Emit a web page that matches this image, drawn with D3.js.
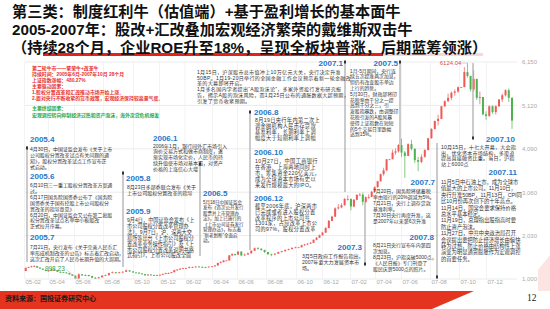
<!DOCTYPE html>
<html>
<head>
<meta charset="utf-8">
<script src="https://cdn.jsdelivr.net/npm/d3@7"></script>
<style>
body { margin: 0; background: #fff; }
svg { display: block; }
</style>
</head>
<body>
<svg id="canvas"></svg>
<script>
var w = 550
var h = 309

// ########## Data: weekly Shanghai Composite (open = previous close) ##########
var startWeek = new Date(2005, 1, 4);
var endWeek = new Date(2008, 0, 25);
var firstOpen = 1190;
var closes = [1265,1280,1300,1305,1270,1245,1220,1195,1200,1225,1205,1170,1160,1155,1140,1110,1080,1015,1110,1085,1095,1070,1030,1020,1040,1080,1090,1140,1160,1140,1160,1170,1205,1180,1155,1150,1130,1115,1090,1105,1095,1090,1095,1100,1120,1140,1140,1161,
    1210,1225,1245,1258,1260,1280,1280,1295,1290,1270,1280,1295,1300,1320,1380,1400,1440,1440,1560,1590,1580,1650,1560,1580,1610,1672,1730,1720,1690,1640,1590,1580,1600,1640,1660,1690,1710,1740,1752,1752,1800,1820,1840,1860,1930,1980,2040,2100,2210,2380,2480,2675,
    2700,2750,2900,2900,2720,2880,2998,3000,2830,2940,2950,3070,3180,3320,3490,3580,3840,3840,4000,4030,4180,4000,3920,4200,4090,3820,3780,3900,4060,4340,4560,4750,4800,5100,5220,5300,5420,5450,5552,5552,5910,5820,5500,5750,5300,5320,4910,4870,5100,4960,5100,5261,
    5360,5480,5300,4760];
var highs = [1270,1290,1315,1328,1310,1280,1250,1225,1210,1240,1235,1210,1180,1165,1160,1145,1115,1085,1135,1120,1110,1100,1075,1045,1050,1090,1105,1150,1180,1165,1170,1185,1225,1210,1185,1160,1160,1140,1120,1115,1115,1105,1105,1110,1130,1150,1155,1170,
    1215,1235,1255,1265,1270,1300,1295,1305,1305,1295,1290,1300,1310,1330,1390,1420,1445,1450,1575,1610,1600,1660,1655,1600,1625,1680,1745,1757,1725,1695,1645,1600,1615,1650,1670,1700,1720,1750,1765,1760,1815,1835,1850,1875,1940,1995,2055,2120,2230,2400,2500,2700,
    2780,2800,2920,2990,2910,2900,3010,3040,3050,2960,3010,3090,3200,3330,3500,3640,3850,3850,4070,4100,4200,4330,4040,4220,4300,4100,3900,3960,4080,4350,4580,4760,4900,5110,5240,5400,5450,5500,5570,5560,6030,6124,5820,5950,5750,5450,5300,4980,5120,5120,5120,5270,
    5400,5500,5522,5310];
var lows = [1185,1260,1275,1290,1265,1240,1210,1185,1180,1195,1200,1165,1140,1145,1130,1100,1070,1005,998,1075,1070,1060,1025,1005,1010,1035,1070,1085,1135,1130,1135,1150,1165,1170,1150,1140,1120,1105,1075,1080,1085,1075,1080,1085,1095,1115,1130,1135,
    1160,1200,1215,1240,1250,1255,1260,1275,1280,1260,1265,1275,1285,1295,1320,1370,1395,1435,1440,1540,1550,1575,1540,1550,1575,1605,1665,1700,1670,1620,1570,1541,1565,1595,1630,1650,1680,1700,1730,1745,1750,1790,1805,1830,1855,1920,1975,2030,2095,2200,2370,2470,
    2650,2680,2740,2860,2630,2700,2870,2980,2750,2800,2900,2940,3060,3170,3310,3450,3560,3830,3850,3950,4000,3900,3400,3950,4050,3750,3560,3750,3880,4050,4330,4550,4650,4800,5080,5200,5250,5350,5420,5545,5560,5780,5450,5450,5250,5150,4880,4780,4850,4920,4900,5080,
    5200,5330,5200,4560];
var yTicks = [1000, 2030, 3060, 4090, 5120, 6150];
var xTickLabels = ["05-02","05-04","05-06","05-08","05-10","05-12","06-02","06-04","06-06","06-08","06-10","06-12","07-02","07-04","07-06","07-08","07-10","07-12"];
// trading-day axis: where each month label sits on the picture
var xTickPos = [24.5,48.5,74.5,103.5,133.5,159.5,185,212.5,237.5,266.5,296.5,322.5,350.5,375.5,401.5,430.5,459.5,486.5];
var peakLabel = "6124.04";
var lowLabel = "998.23";

var parseTick = d3.timeParse("%y-%m");
var xTicks = xTickLabels.map(parseTick);
var weeks = d3.timeFriday.range(startWeek, d3.timeDay.offset(endWeek, 1));
var candles = weeks.map(function (d, i) {
    return { date: d, open: i ? closes[i - 1] : firstOpen, close: closes[i], high: highs[i], low: lows[i] };
});

var latin = "'Liberation Sans', Arial, sans-serif";
var mixed = "'Liberation Sans', 'Noto Sans CJK SC', sans-serif";
var blue = "#1f78c8";

// ########## SVG ##########
var svg = d3.select("#canvas")
    .attr("width", w)
    .attr("height", h)
    .style("font-family", mixed);

svg.append("rect").attr("width", w).attr("height", h).attr("fill", "#fff");

// ########## Title ##########
var titles = ["第三类：制度红利牛（估值端）+基于盈利增长的基本面牛",
    "2005-2007年：股改+汇改叠加宏观经济繁荣的戴维斯双击牛",
    "（持续28个月，企业ROE升至18%，呈现全板块普涨，后期蓝筹领涨）"];

svg.append("rect").attr("x", 383).attr("y", 53).attr("width", 100).attr("height", 3).attr("fill", "#f8d8d5");
svg.append("rect").attr("x", 43).attr("y", 53).attr("width", 340).attr("height", 3).attr("fill", "#e2231a");

svg.selectAll(".title")
    .data(titles).enter()
    .append("text")
    .attr("class", "title")
    .attr("x", 12)
    .attr("y", function (d, i) { return 17 + i * 18; })
    .attr("font-size", 15.2)
    .attr("font-weight", 700)
    .attr("fill", "#111")
    .text(function (d) { return d; });

// ########## Scales ##########
var x = d3.scaleTime()
    .domain(xTicks.concat([endWeek]))
    .range(xTickPos.concat([512]));
var y = d3.scaleLinear().domain([1000, 6150]).range([279, 62]);

// ########## Grid ##########
svg.append("g").selectAll("line")
    .data(yTicks).enter()
    .append("line")
    .attr("x1", 25).attr("x2", 517)
    .attr("y1", function (d) { return y(d); })
    .attr("y2", function (d) { return y(d); })
    .attr("stroke", "#e6e6e6")
    .attr("stroke-width", 0.8);

svg.append("g").selectAll("line")
    .data(xTicks).enter()
    .append("line")
    .attr("x1", function (d) { return x(d); })
    .attr("x2", function (d) { return x(d); })
    .attr("y1", 62).attr("y2", 279)
    .attr("stroke", "#f0f0f0")
    .attr("stroke-width", 0.8);

// ########## Axes ##########
var yAxis = svg.append("g")
    .attr("transform", "translate(520,0)")
    .call(d3.axisRight(y).tickValues(yTicks).tickSize(0).tickPadding(2));
var xAxis = svg.append("g")
    .attr("transform", "translate(0,279)")
    .call(d3.axisBottom(x).tickValues(xTicks).tickFormat(d3.timeFormat("%y-%m")).tickSize(0).tickPadding(0.5));

[yAxis, xAxis].forEach(function (a) {
    a.select(".domain").remove();
    a.selectAll("text")
        .attr("fill", "#aaa")
        .attr("font-size", 6)
        .attr("font-family", latin);
});
xAxis.selectAll("text").attr("text-anchor", "start").attr("x", 0.5);

// ########## Candles ##########
var upColor = "#ef5a57";
var downColor = "#4db34f";

var candle = svg.append("g").selectAll("g")
    .data(candles).enter()
    .append("g")
    .attr("fill", function (d) { return d.close >= d.open ? upColor : downColor; })
    .attr("stroke", function (d) { return d.close >= d.open ? upColor : downColor; });

candle.append("line")
    .attr("x1", function (d) { return x(d.date); })
    .attr("x2", function (d) { return x(d.date); })
    .attr("y1", function (d) { return y(d.high); })
    .attr("y2", function (d) { return y(d.low); })
    .attr("stroke-width", 0.7);

candle.append("rect")
    .attr("stroke", "none")
    .attr("x", function (d) { return x(d.date) - 1; })
    .attr("width", 2)
    .attr("y", function (d) { return y(Math.max(d.open, d.close)); })
    .attr("height", function (d) { return Math.max(0.8, Math.abs(y(d.open) - y(d.close))); });

// ########## Peak / trough labels ##########
var peak = candles.reduce(function (a, b) { return b.high > a.high ? b : a; });
var trough = candles.reduce(function (a, b) { return b.low < a.low ? b : a; });

svg.append("line")
    .attr("x1", x(peak.date) - 6).attr("x2", x(peak.date))
    .attr("y1", y(peak.high)).attr("y2", y(peak.high))
    .attr("stroke", "#bbb").attr("stroke-width", 0.6);
svg.append("text")
    .attr("x", x(peak.date) - 6).attr("y", y(peak.high) + 2)
    .attr("text-anchor", "end")
    .attr("font-size", 6)
    .attr("font-family", latin)
    .attr("fill", "#e0504d")
    .text(peakLabel);

svg.append("line")
    .attr("x1", x(trough.date) - 13).attr("x2", x(trough.date) - 1)
    .attr("y1", y(trough.low) - 10).attr("y2", y(trough.low))
    .attr("stroke", "#bbb").attr("stroke-width", 0.6);
svg.append("text")
    .attr("x", x(trough.date) - 14).attr("y", y(trough.low) - 8)
    .attr("text-anchor", "end")
    .attr("font-size", 6.5)
    .attr("font-family", latin)
    .attr("fill", "#3c9a3c")
    .text(lowLabel);

// ########## Leader lines ##########
var leaders = [
    { x: 27, y1: 146, y2: 262, mark: 148 },
    { x: 123, y1: 173, y2: 267, mark: 173 },
    { x: 200, y1: 164, y2: 256, mark: 164 },
    { x: 250, y1: 112, y2: 250, mark: 112 },
    { x: 345, y1: 62, y2: 192, mark: 62 },
    { x: 365, y1: 202, y2: 265, mark: 264 },
    { x: 400, y1: 62, y2: 145, mark: 62 },
    { x: 437, y1: 143, y2: 278, mark: 277 },
    { x: 473, y1: 63, y2: 139, mark: 138 }
];

svg.append("g").selectAll("line")
    .data(leaders).enter()
    .append("line")
    .attr("x1", function (d) { return d.x; })
    .attr("x2", function (d) { return d.x; })
    .attr("y1", function (d) { return d.y1; })
    .attr("y2", function (d) { return d.y2; })
    .attr("stroke", "#a8a8a8")
    .attr("stroke-width", 1.2);

svg.append("g").selectAll("rect")
    .data(leaders).enter()
    .append("rect")
    .attr("x", function (d) { return d.x - 1; })
    .attr("y", function (d) { return d.mark - 1.5; })
    .attr("width", 2)
    .attr("height", 3)
    .attr("fill", "#333");

// ########## Annotations (one text element per column) ##########
function textBlock(parts) {
    var t = svg.append("text");
    parts.forEach(function (p) {
        if (p.head) {
            t.append("tspan")
                .attr("x", p.hx).attr("y", p.hy)
                .attr("text-anchor", p.anchor || "start")
                .attr("font-size", 8)
                .attr("font-weight", 700)
                .attr("fill", blue)
                .text(p.head);
        }
        p.lines.forEach(function (s, i) {
            t.append("tspan")
                .attr("x", p.x).attr("y", p.y + i * p.lh)
                .attr("text-anchor", "start")
                .attr("font-size", p.size)
                .attr("letter-spacing", p.ls || 0)
                .attr("font-weight", p.weight || 400)
                .attr("fill", p.color || "#333")
                .text(s);
        });
    });
}

textBlock([
    { x: 32, y: 70, lh: 6, size: 4.9, color: "#e8302a", weight: 700, lines: ["第二轮牛市——繁荣牛+改革牛",
        "持续时间：2005年6月-2007年10月   28个月",
        "上证指数涨幅：480.27%",
        "主要驱动因素：",
        "1.股权分置改革和汇改推动市场开始上涨。",
        "2.面对央行不断收紧的货币政策，宏观经济保持较高景气度。"] },
    { x: 32, y: 110, lh: 7, size: 4.9, color: "#1ea84a", weight: 700, lines: ["主要终结因素：",
        "宏观调控转向抑制经济过热和资产泡沫，海外次贷危机爆发"] }
]);

textBlock([
    { head: "2005.4", hx: 30, hy: 142, x: 30, y: 150.5, lh: 6, size: 4.95, lines: ["4月30日，中国证监会发布《关于上市",
        "公司股权分置改革试点有关问题的通",
        "知》，股权分置改革试点工作宣布正",
        "式启动。"] },
    { head: "2005.6", hx: 30, hy: 179, x: 30, y: 187, lh: 5.9, size: 4.95, lines: ["6月10日三一重工股权分置改革方案通",
        "过。",
        "6月17日国务院国资委公布了《国务院",
        "国资委关于国有控股上市公司股权分",
        "置改革的指导意见》",
        "6月20日，中国证监会又公布第二批股",
        "权分置改革试点名单中小板股改",
        "正式拉开序幕。"] },
    { head: "2005.7", hx: 30, hy: 240, x: 30, y: 249, lh: 6, size: 4.95, lines: ["7月21日，央行发布《关于完善人民币汇",
        "率形成机制改革的公告》标志着汇改启动，",
        "这次汇改开启了人民币长期升值的大周期。"] }
]);

textBlock([
    { head: "2005.8", hx: 126, hy: 181, x: 127, y: 189, lh: 5.7, size: 5.05, lines: ["8月23日多部委联合发布《关于",
        "上市公司股权分置改革的指导"] },
    { head: "2005.9", hx: 126, hy: 214, x: 127, y: 222, lh: 5.9, size: 5.15, lines: ["9月4日，中国证监会发布《上",
        "市公司股权分置改革管理办",
        "法》，9月7日，沪、深两大交",
        "易所等出台《上市公司股权分",
        "置改革业务操作指引》及《上",
        "市公司股权分置改革说明书格",
        "式指引》，上市公司股改全面"] }
]);

textBlock([
    { head: "2006.1", hx: 153, hy: 141, x: 153, y: 147.5, lh: 5.8, size: 5.0, lines: ["2006年1月，银行间外汇市场引入",
        "询价交易方式和做市商制度，逐",
        "渐实现市场化定价，人民币的持",
        "续升值使市场对基本面，对资产",
        "价格的上涨信心大增"] }
]);

textBlock([
    { head: "2006.5", hx: 203, hy: 196, x: 203, y: 203.5, lh: 5.5, size: 4.5, lines: ["5月18日中国证监会",
        "发布《首次公开发行",
        "股票并上市管理办",
        "法》，加上已施行的",
        "《上市公司证券发行",
        "管理办法》，标志着",
        "“新老划断”全面启",
        "动。"] }
]);

textBlock([
    { head: "2007.1", hx: 343, hy: 66, anchor: "end", x: 197, y: 74, lh: 5.7, size: 5.05, ls: 0.3, lines: ["1月15日，沪深股市总市值冲上10万亿元大关，央行决定升准",
        "50BP。1月19-20日举行的全国金融工作会议预示着新一轮金融改",
        "革的大幕即将开启。",
        "1月多名国内学者提出“A股泡沫论”，多家外资投行发布研究报",
        "告，揭示A股的泡沫风险，而1月25日公布的通胀数据大超预期，",
        "引发了货币收紧预期。"] }
]);

textBlock([
    { head: "2006.8", hx: 254, hy: 115, x: 255, y: 121.5, lh: 6, size: 5.2, ls: 0.35, lines: ["8月19日央行年内第二次上",
        "调金融机构人民币存贷款",
        "基准利率，长期利率上调",
        "幅度大于短期利率上调幅"] },
    { head: "2006.10", hx: 254, hy: 155, x: 255, y: 163, lh: 6, size: 5.2, ls: 0.35, lines: ["10月27日，中国工商银行",
        "在香港、上海两地同时上",
        "市，筹集资金220亿美元，",
        "成为全球资本市场有史以",
        "来发行规模最大的IPO。"] },
    { head: "2006.12", hx: 254, hy: 201, x: 255, y: 208, lh: 5.8, size: 5.15, ls: 0.35, lines: ["截至2006年底，沪深两市",
        "已完成或者进入股权分置",
        "改革程序的上市公司共",
        "1301家，占应改革上市公",
        "司的97%，股权分置改革"] }
]);

textBlock([
    { head: "2007.3", hx: 362, hy: 250, anchor: "end", x: 302, y: 257.5, lh: 6.2, size: 5.1, lines: ["3月5日政府工作报告指出，",
        "2007年要大力发展资本市",
        "场。"] }
]);

textBlock([
    { head: "2007.5", hx: 398, hy: 65.5, anchor: "end", x: 350, y: 72.5, lh: 5.8, size: 4.85, lines: ["1月-5月期间，央行连",
        "续五次提准两次加息，",
        "但仍有改变股市单边",
        "上行的趋势。",
        "5月30日，财政部将印",
        "花税率由千分之一提",
        "高到千分之三，引",
        "发股指暴跌，由调整印",
        "花税引发的A股风暴",
        "使得上证指数在短短",
        "的5个交易日里跌幅",
        "达到15%。"] }
]);

textBlock([
    { head: "2007.7", hx: 435, hy: 185, anchor: "end", x: 373, y: 193, lh: 5.9, size: 4.95, lines: ["7月20日，国务院将储蓄税",
        "率由现行的20%调减为5%。",
        "7月21日，央行上调存贷款",
        "基准利率。",
        "7月30日央行再度升准，这",
        "是2007年以来第6次升准"] },
    { head: "2007.8", hx: 434, hy: 240, anchor: "end", x: 373, y: 247, lh: 6.1, size: 4.95, lines: ["8月21日央行宣布年内第四",
        "次加息。",
        "8月23日，沪指突破5000点，",
        "《人民日报》专门刊登了",
        "股民庆贺5000点的照片。"] }
]);

textBlock([
    { head: "2007.10", hx: 515, hy: 142, anchor: "end", x: 441, y: 149, lh: 5.7, size: 5.05, ls: 0.2, lines: ["10月15日，十七大开幕，大会指",
        "出，优化资本市场结构，多渠道",
        "提高直接融资比重。当日，沪指",
        "站上6000点"] },
    { head: "2007.11", hx: 517, hy: 175, anchor: "end", x: 441, y: 184, lh: 6.4, size: 5.3, lines: ["11月5日中石油上市，成为全球市",
        "值最大的上市公司。11月10日，",
        "央行升准50BP，11月13日，CPI同",
        "比10月份再次创下的十年高点。",
        "11月14日，国常会要求保持价格",
        "总水平基本稳定。",
        "11月19日，总理指出股指高时要",
        "防止资产泡沫。",
        "11月27日，中共中央政治局召开",
        "会议提出要把防止经济增长由偏快",
        "转为过热，防止价格由结构性上涨",
        "演变为明显通货膨胀作为宏观调控",
        "的首要任务。"] }
]);

// ########## Footer ##########
svg.append("polygon")
    .attr("points", "538,270 550,255 550,291 538,291")
    .attr("fill", "#fbe4e2");
svg.append("polygon")
    .attr("points", "0,291 474,291 432,309 0,309")
    .attr("fill", "#e4341f");
svg.append("text")
    .attr("x", 5).attr("y", 301)
    .attr("font-size", 7)
    .attr("font-weight", 700)
    .attr("fill", "#1a1a1a")
    .text("资料来源：国投证券研究中心");
svg.append("text")
    .attr("x", 527).attr("y", 300.5)
    .attr("font-size", 9.5)
    .attr("font-family", "'Liberation Serif', serif")
    .attr("fill", "#222")
    .text("12");
</script>
</body>
</html>
